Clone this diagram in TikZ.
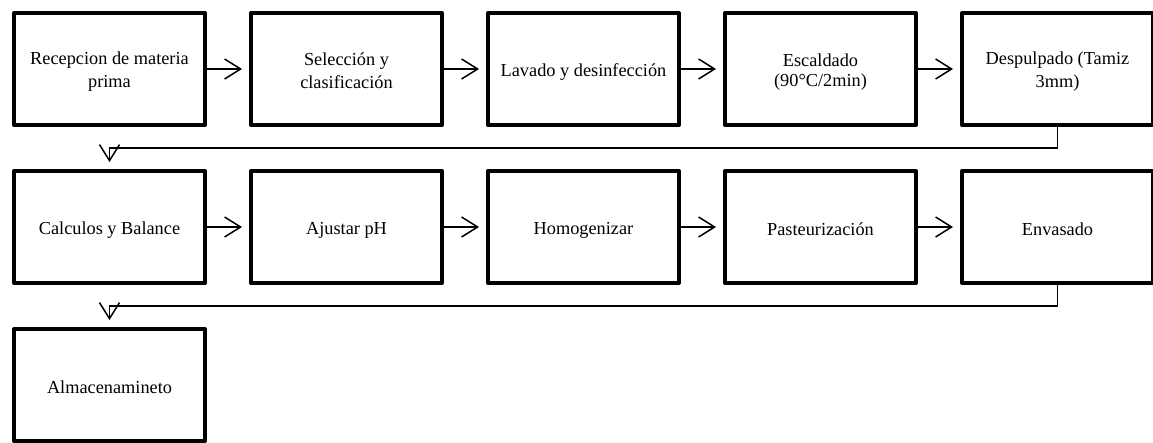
\documentclass[tikz,border=0pt]{standalone}
\usepackage{fontspec}
\setmainfont{Liberation Serif}
\usetikzlibrary{positioning,arrows.meta}

\newcommand{\linestrut}{\rule[-2pt]{0pt}{20pt}}

\begin{document}
\begin{tikzpicture}[
    node distance=42pt,
    stage/.style={draw, line width=4pt, line join=round, minimum width=191pt,
        minimum height=112pt, align=flush center, text width=169pt,
        font=\fontsize{18.3}{20}\selectfont,
        execute at begin node=\linestrut, execute at end node=\linestrut},
    flow/.style={line width=1.5pt, -{Straight Barb[length=16pt,width=20pt]}, shorten >=7pt}
]
\useasboundingbox (0,0) rectangle (1153pt,-442pt);

% first row
\node [stage] (rec) at (109.5pt,-69pt) {Recepcion de materia prima};
\node [stage, right=of rec] (sel) {Selección y clasificación};
\node [stage, right=of sel] (lav) {Lavado y desinfección};
\node [stage, right=of lav] (esc) {Escaldado (90°C/2min)};
\node [stage, right=of esc] (desp) {Despulpado (Tamiz 3mm)};

% second row
\node [stage, below=of rec] (calc) {Calculos y Balance};
\node [stage, right=of calc] (ajus) {Ajustar pH};
\node [stage, right=of ajus] (homo) {Homogenizar};
\node [stage, right=of homo] (past) {Pasteurización};
\node [stage, right=of past] (env) {Envasado};

% third row
\node [stage, below=of calc] (alm) {Almacenamineto};

\draw [flow] (rec) -- (sel);
\draw [flow] (sel) -- (lav);
\draw [flow] (lav) -- (esc);
\draw [flow] (esc) -- (desp);
\draw [flow] (desp.south) -- ++(0,-21pt) -| (calc.north);

\draw [flow] (calc) -- (ajus);
\draw [flow] (ajus) -- (homo);
\draw [flow] (homo) -- (past);
\draw [flow] (past) -- (env);
\draw [flow] (env.south) -- ++(0,-21pt) -| (alm.north);
\end{tikzpicture}
\end{document}
